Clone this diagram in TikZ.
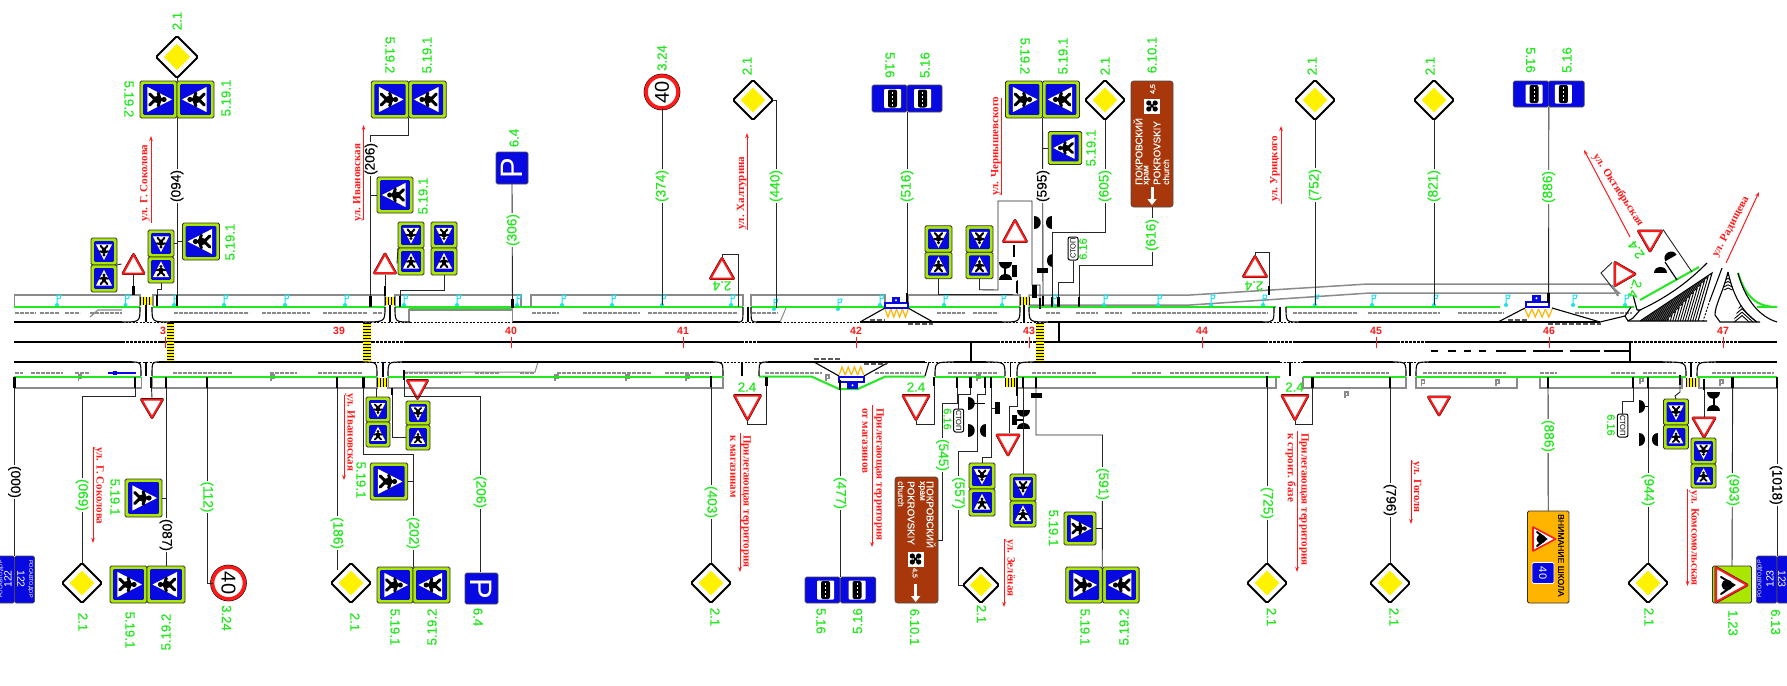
\documentclass[tikz,border=0pt]{standalone}
\usepackage{fontspec}
\setmainfont{Liberation Sans}
\newfontfamily\strfont{Liberation Serif}
\newfontfamily\lblfont[FakeBold=0.35]{Liberation Sans}
\usetikzlibrary{shapes.geometric,arrows.meta}
\definecolor{sgreen}{HTML}{22E81E}
\definecolor{sred}{HTML}{FF1A1A}
\definecolor{sblue}{HTML}{0808E0}
\definecolor{slime}{HTML}{ABE600}
\definecolor{sbrown}{HTML}{A8380C}
\definecolor{sorange}{HTML}{FFB400}
\definecolor{syel}{HTML}{FFF200}
\definecolor{scyan}{HTML}{19E3EE}
\definecolor{sgrey}{HTML}{8A8A8A}
\tikzset{
 conn/.style={draw=black!85,line width=0.9pt},
 stubl/.style={draw=black,line width=2.6pt},
 curb/.style={draw=black,line width=1.1pt},
 cdash/.style={draw=black,line width=0.9pt,dash pattern=on 2pt off 1.5pt},
 mid/.style={draw=black,line width=2pt},
 middash/.style={draw=black,line width=1.6pt,dash pattern=on 2.5pt off 1.5pt},
 grl/.style={draw=sgrey,line width=1.5pt},
 grd/.style={draw=sgrey,line width=1.2pt,dash pattern=on 4pt off 1pt},
 grn/.style={draw=sgreen,line width=2pt},
 glab/.style={font=\fontsize{13.2}{13.2}\selectfont\lblfont,text=sgreen,inner sep=0pt},
 glabs/.style={font=\fontsize{11}{11}\selectfont\lblfont,text=sgreen,inner sep=0pt},
 dlab/.style={font=\fontsize{13.7}{13.7}\selectfont\lblfont,text=sgreen,fill=white,inner sep=1pt},
 blab/.style={font=\fontsize{13.7}{13.7}\selectfont\lblfont,text=black,fill=white,inner sep=1pt},
 klab/.style={font=\fontsize{10.5}{10.5}\selectfont\bfseries,text=sred,inner sep=0pt},
 slab/.style={font=\fontsize{11}{11}\selectfont\strfont\bfseries,text=sred,inner sep=0pt},
 starrow/.style={draw=sred,line width=1pt,-{Stealth[length=5pt,width=3.5pt]}},
 stline/.style={draw=sred,line width=1pt},
 pedbox/.style={draw=black!80,line width=0.9pt,fill=slime,rounded corners=1.5pt,inner sep=0pt,outer sep=0pt},
 bluebox/.style={draw=black!70,line width=0.6pt,fill=sblue,rounded corners=1.5pt,inner sep=0pt,outer sep=0pt},
 brownbox/.style={draw=black!70,line width=0.6pt,fill=sbrown,rounded corners=2.5pt,inner sep=0pt,outer sep=0pt},
 wlab/.style={text=white,inner sep=0pt},
 ghost/.style={inner sep=0pt,outer sep=0pt}
}
\newcounter{tn}
\newcommand{\tx}[5][glab]{\stepcounter{tn}\node[#1,rotate=#4] (t\thetn) at (#2,#3) {#5};}
\newcommand{\ped}[6]{%
 \node[pedbox,minimum width=#4pt,minimum height=#5pt] (#1) at (#2,#3) {};
 \begin{scope}[shift={(#2,#3)}]
 \pgfmathsetmacro\hw{#4/2-3.2}\pgfmathsetmacro\hh{#5/2-3.2}\pgfmathsetmacro\uu{min(\hw,\hh)}
 \fill[sblue,rounded corners=1pt] (-\hw,-\hh) rectangle (\hw,\hh);
 \begin{scope}[rotate=#6]
 \fill[white] (0,-0.88*\uu) -- (0.82*\uu,0.72*\uu) -- (-0.82*\uu,0.72*\uu) -- cycle;
 \draw[black,line width=0.2*\uu pt,line cap=round,line join=round] (-0.42*\uu,0.02*\uu) -- (0,-0.1*\uu) -- (0.42*\uu,0.02*\uu) (-0.36*\uu,0.58*\uu) -- (0,0.2*\uu) -- (0.36*\uu,0.58*\uu);
 \fill[black] (0,0.06*\uu) ellipse[x radius=0.24*\uu,y radius=0.3*\uu] (0,-0.36*\uu) circle[radius=0.17*\uu];
 \end{scope}\end{scope}}
\newcommand{\dmd}[4]{%
 \node[diamond,aspect=1,draw=black,line width=1.8pt,fill=white,minimum size=#4pt,inner sep=0pt,outer sep=0pt,rounded corners=1.5pt] (#1) at (#2,#3) {};
 \pgfmathsetmacro\dd{#4*0.31}
 \fill[yellow] (#2,#3) ++(0,-\dd) -- ++(\dd,\dd) -- ++(-\dd,\dd) -- ++(-\dd,-\dd) -- cycle;}
\newcommand{\yld}[6]{%
 \node[ghost,minimum width=#4pt,minimum height=#5pt] (#1) at (#2,#3) {};
 \begin{scope}[shift={(#2,#3)},rotate=#6]
 \pgfmathsetmacro\ww{#4/2-1.5}\pgfmathsetmacro\vv{#5/2-1.5}
 \draw[black,line width=2.8pt,line join=round] (0,-\vv) -- (\ww,\vv) -- (-\ww,\vv) -- cycle;
 \draw[sred,line width=2pt,fill=white,line join=round] (0,-\vv) -- (\ww,\vv) -- (-\ww,\vv) -- cycle;
 \end{scope}}
\newcommand{\spd}[4]{%
 \fill[black] (#2,#3) circle[radius=18.3];
 \node[circle,draw=sred,line width=3.6pt,fill=white,minimum size=32pt,inner sep=0pt,outer sep=0pt,rotate=#4,font=\fontsize{20}{20}\selectfont] (#1) at (#2,#3) {40};}
\newcommand{\bus}[7][0]{%
 \node[bluebox,minimum width=#5pt,minimum height=#6pt] (#2) at (#3,#4) {};
 \begin{scope}[shift={(#3,#4)}]
 \fill[white,rounded corners=1pt] (#7-8.5,-9.5) rectangle (#7+8.5,9.5);
 \fill[black,rounded corners=2pt] (#7-4.5,-9) rectangle (#7+4.5,9);
 \draw[white,line width=1pt,dash pattern=on 2pt off 2pt] (#7,-7) -- (#7,7);
 \end{scope}}
\newcommand{\clov}[2]{\fill[white] (#1-8,#2-7.5) rectangle (#1+8,#2+7.5);
 \fill[black] (#1-3.2,#2-3) circle[radius=2.6] (#1+3.2,#2-3) circle[radius=2.6] (#1-3.2,#2+3) circle[radius=2.6] (#1+3.2,#2+3) circle[radius=2.6];
 \draw[black,line width=1.6pt] (#1-3,#2-3) -- (#1+3,#2+3) (#1-3,#2+3) -- (#1+3,#2-3);}
\newcommand{\dome}[3]{\begin{scope}[shift={(#1,#2)},rotate=#3]\fill[black] (-6.5,0) .. controls (-6.5,-8.5) and (6.5,-8.5) .. (6.5,0) -- cycle;\end{scope}}
\newcommand{\cyf}[2]{\fill[scyan] (#1,#2) circle[radius=2];\draw[scyan,line width=1pt] (#1,#2) -- (#1,#2-10) -- (#1+4,#2-10) -- (#1+3,#2-6.5) -- (#1,#2-6.5);}
\newcommand{\gmk}[2]{\draw[sgrey,line width=1.1pt] (#1,#2) -- (#1,#2-6) -- (#1+3,#2-6) -- (#1+3,#2-2.5) -- (#1,#2-2.5);}
\newcommand{\zebv}[4]{\fill[syel] (#1,#2) rectangle (#3,#4);\foreach \q in {0,2,...,10}{\pgfmathsetmacro\qq{#1+\q*1.5}\pgfmathparse{\qq<#3?1:0}\ifnum\pgfmathresult=1\fill[black] (\qq,#2) rectangle (\qq+1.3,#4);\fi}}
\newcommand{\zebh}[4]{\fill[syel] (#1,#2) rectangle (#3,#4);\foreach \q in {0,3,...,36}{\fill[black] (#1,#2+\q) rectangle (#3,#2+\q+1.3);}}
\newcommand{\cu}[4]{\draw[curb] (#1,#3) .. controls (#2,#3) .. (#2,#4);}
\newcommand{\stub}[3]{\draw[stubl] (#1,#2) -- (#1,#3);}
\begin{document}
\begin{tikzpicture}[x=1pt,y=-1pt]
\useasboundingbox (0,0) rectangle (1787,685);
\begin{scope}
\clip (0,0) rectangle (1787,685);
\fill[white] (0,0) rectangle (1787,685);
% ---------- sidewalks
\foreach \a/\b in {14.5/140,153/385,395/521,531/743,751/885,908/1020}{\draw[grl] (\a,306) -- (\a,295) -- (\b,295) -- (\b,306);}
\draw[grl] (1029,306) -- (1029,295) -- (1190,295) -- (1368,284) -- (1609,284) -- (1619,293) -- (1370,293) -- (1190,305) -- (1029,305);
\foreach \a/\b in {14.5/141.6,152/377,388/723,1017/1276,1303/1406,1416/1517,1540/1682,1699/1777}{\draw[grl] (\a,377) -- (\a,388) -- (\b,388) -- (\b,377);}
\draw[draw=sgrey,line width=1.2pt] (409,322) -- (409,310) -- (512,310);
\draw[sgrey,line width=1pt,dash pattern=on 3pt off 1.5pt] (404,362) -- (538,362);
\draw[sgrey,line width=1pt] (538,362) -- (535,372) -- (404,372);
\draw[sgrey,line width=1pt] (786,308) -- (780,322);
% grey dashes
\foreach \a/\b in {15/36,40/59,65/80,90/122,174/249,262/310,323/367,373/383,532/559,583/640,648/738,752/778,937/965,973/998,1046/1061,1076/1098,1105/1122,1132/1268,1293/1358,1368/1440,1458/1504,1575/1632}{\draw[grd] (\a,313) -- (\b,313);}
\foreach \a/\b in {15/23,31/63,75/90,173/232,270/297,318/362,404/461,475/500,520/534,557/652,665/711,765/822,875/921,948/998,1032/1096,1132/1161,1170/1200,1200/1270,1316/1389,1423/1506,1540/1557,1611/1636,1643/1676,1712/1774}{\draw[grd] (\a,373) -- (\b,373);}
\draw[sgrey,line width=1.2pt] (90,317) -- (98,310) -- (122,310);
\draw[sblue,line width=1.2pt] (108,373) -- (136,373);\fill[sblue] (113,371) rectangle (117,375);
% flags
\foreach \f in {57,125.5,224,285,345,457,517,562,612,662,731,880,944,1002,1053,1104,1158,1211,1263,1315,1372,1434,1506,1573,1625}{\cyf{\f}{305}}
\cyf{174}{305}\cyf{404}{305}\cyf{774}{309}\cyf{838}{309}
\foreach \a/\b in {78.5/381,271/381,555/381,626/381,686/381,826/381,977/381,1421.5/386,1496/386,1640/384,1720/386,1345/398}{\gmk{\a}{\b}}
% green
\foreach \a/\b in {14/140,153/385,395/743,751/885,908/1020,1029/1276,1286/1500,1578/1634,1757/1777}{\draw[grn] (\a,307) -- (\b,307);}
\draw[sgreen,line width=3pt] (409,307.5) -- (512,307.5);
\foreach \a/\b in {14/141,152/377,388/723,935/1005,1017/1280,1303/1406,1416/1686,1697/1777}{\draw[grn] (\a,376.7) -- (\b,376.7);}
\draw[grn] (759,376.7) -- (812,376.7) -- (839,389) -- (858,389) -- (885,376.7) -- (925,376.7);
\draw[grn] (1640,300) -- (1699,267);
\draw[grn] (1738,273) .. controls (1745,295) and (1755,307) .. (1777,307);
% ---------- road
\foreach \a/\b in {14/122,170/363,512/738,757/780,860/1002,1048/1263,1299/1600}{\draw[curb] (\a,322) -- (\b,322);}
\foreach \a/\b in {122/170,363/410,410/512,738/757,780/860,1002/1048,1263/1299}{\draw[cdash] (\a,322) -- (\b,322);}
\foreach \a/\b in {14/132,159/363,402/713,768/925,954/986,1034/1280,1303/1393,1429/1663,1716/1777}{\draw[curb] (\a,362) -- (\b,362);}
\foreach \a/\b in {132/159,363/402,713/768,925/954,986/1034,1280/1303,1393/1429,1663/1716}{\draw[cdash] (\a,362) -- (\b,362);}
\foreach \a/\b in {14/122,160/372,407/741,757/997,1035/1265,1295/1397,1425/1630,1741/1777}{\draw[mid] (\a,342) -- (\b,342);}
\foreach \a/\b in {122/160,372/407,741/757,997/1035,1265/1295,1397/1425,1630/1741}{\draw[middash] (\a,342) -- (\b,342);}
\draw[draw=black,line width=1.3pt] (1431,351) -- (1438,351) (1448,351) -- (1456,351) (1464,351) -- (1471,351) (1479,351) -- (1486,351) (1496,351) -- (1526,351) (1533,351) -- (1563,351) (1570,351) -- (1600,351) (1604,351) -- (1630,351);
\draw[mid] (1629.5,342) -- (1629.5,362);\draw[mid] (1059,322) -- (1059,342);\draw[mid] (971,342) -- (971,361);
% curbs
\cu{122}{140}{322}{307}\cu{170}{152}{322}{307}\cu{363}{385}{322}{307}\cu{410}{395}{322}{307}\cu{738}{743}{322}{307}\cu{757}{751}{322}{307}\cu{1002}{1020}{322}{307}\cu{1048}{1029}{322}{307}\cu{1263}{1274}{322}{307}\cu{1299}{1286}{322}{307}
\cu{132}{141}{362}{376}\cu{159}{152}{362}{376}\cu{363}{377}{362}{376}\cu{402}{388}{362}{376}\cu{713}{723}{362}{376}\cu{768}{759}{362}{376}\cu{954}{935}{362}{376}\cu{986}{1005}{362}{376}\cu{1034}{1017}{362}{376}\cu{1393}{1406}{362}{376}\cu{1429}{1416}{362}{376}\cu{1663}{1686}{362}{376}\cu{1716}{1697}{362}{376}
\draw[curb] (929,362) -- (925,376);
\foreach \x/\a/\b in {146/305/322,390/305/322,748/307/322,1024/305/322,1280/307/322}{\draw[curb] (\x,\a) -- (\x,\b);}
\foreach \x/\a/\b in {146/362/376,383/362/377,742/362/376,1010.5/362/377,1290/362/376,1410/362/376,1691/362/377}{\draw[curb] (\x,\a) -- (\x,\b);}
% bus bays
\draw[curb] (860,322) -- (885,308);\draw[curb] (908,308) -- (933,322);
\draw[curb] (1498,322) -- (1525,308);\draw[curb] (1552,308) -- (1600,322);
\draw[curb] (814,362) -- (839,376);\draw[curb] (864,376) -- (889,362);
\foreach \a/\b/\y in {870/885/320,908/933/324,1508/1527/320,1548/1601/324,814/841/359,864/887/364}{\draw[black!65,line width=1.2pt,dash pattern=on 5pt off 2pt] (\a,\y) -- (\b,\y);}
\foreach \x in {0,1,2,3}{
 \draw[sorange,line width=1.2pt] ({885+\x*5.8},309) -- ({888+\x*5.8},317) -- ({890.8+\x*5.8},309);
 \draw[sorange,line width=1.2pt] ({1525+\x*6.8},309) -- ({1528.4+\x*6.8},317) -- ({1531.8+\x*6.8},309);
 \draw[sorange,line width=1.2pt] ({839+\x*6.2},375) -- ({842+\x*6.2},367) -- ({845.2+\x*6.2},375);}
\foreach \a/\b/\y in {885/908/303,1526/1549/302,839/864/377}{\draw[sblue,line width=1.1pt,fill=white] (\a,\y) rectangle (\b,\y+5);}
\foreach \a/\b/\y in {892/900/297,1532/1541/295,847/858/382}{\fill[sblue] (\a,\y) rectangle (\b,\y+6.5);\fill[white] ({(\a+\b)/2},\y+3.2) circle[radius=1.1];}
% complex junction
\draw[curb] (1600,322) -- (1625,316) -- (1628,321) -- (1707,321);
\draw[curb] (1640,321) -- (1712,273) -- (1698,321);
\draw[curb] (1640,310) .. controls (1670,296) and (1690,280) .. (1707,263);
\draw[curb] (1625,316) -- (1631,307) (1637,310) -- (1640,310) -- (1633,318) -- (1628,321);
\draw[curb] (1722,268) -- (1710,300);\draw[cdash] (1710,300) -- (1703,321);
\draw[curb] (1728,272) .. controls (1722,295) and (1715,305) .. (1715,315) -- (1720,322) -- (1760,322);
\draw[curb] (1728,272) .. controls (1733,295) and (1742,312) .. (1757,322);
\draw[curb] (1738,273) .. controls (1745,300) and (1760,317) .. (1777,322);
\begin{scope}\clip (1640,321) -- (1712,273) -- (1698,321) -- cycle;
\foreach \i in {0,...,13}{\draw[black,line width=0.9pt] ({1708-\i*3.6},{277+\i*3.8}) ++(-72,48) -- ({1708-\i*3.6},{277+\i*3.8}) -- ++(-14,48);}
\end{scope}
\begin{scope}\clip (1728,272) -- (1723,290) -- (1733,290) -- cycle;
\foreach \i in {0,...,5}{\draw[black,line width=0.9pt] (1720,{276+\i*3.2}) -- (1728,{272+\i*3.2}) -- (1736,{276+\i*3.2});}
\end{scope}
\begin{scope}\clip (1740,305) -- (1733,322) -- (1757,322) -- cycle;
\foreach \i in {0,...,4}{\draw[black,line width=0.9pt] (1730,{312+\i*3.4}) -- (1742,{302+\i*3.4}) -- (1762,{320+\i*3.4});}
\end{scope}
% crossings
\zebh{167}{323}{174}{361}\zebh{363}{323}{371}{361}\zebh{1036}{323}{1044}{361}
\zebv{140}{297}{152}{305}\zebv{385}{297}{395}{305}\zebv{1020}{297}{1030}{305}
\zebv{377}{378}{388}{387}\zebv{1005}{378}{1017}{387}\zebv{1686}{378}{1697}{387}
% km labels
\foreach \x/\t in {163/3,339/39,511/40,683/41,856/42,1029/43,1202/44,1376/45,1549/46,1723/47}{\stepcounter{tn}\node[klab] (t\thetn) at (\x,331) {\t};}
\foreach \x in {165,511,683,856,1029,1202,1376,1549,1723}{\draw[sred,line width=1pt] (\x,337) -- (\x,348);}
\zebh{167}{323}{174}{361}
% ---------- TOP signs
\dmd{d1}{177}{57}{42}
\ped{p1a}{158.5}{99.5}{37}{37}{-90}\ped{p1b}{195.5}{99.5}{37}{37}{90}
\ped{p2}{201}{241.5}{37}{37}{90}
\ped{p3a}{161}{243.5}{26}{27}{180}\ped{p3b}{161}{270}{26}{26}{0}
\ped{p4a}{104}{251.5}{26}{27}{180}\ped{p4b}{104}{278.5}{26}{27}{0}
\yld{y1}{133.5}{264}{24}{22}{0}
\coordinate (e1) at (177,306);\coordinate (e2) at (157,305);\coordinate (e3) at (133.5,295);
\draw[conn] (d1.south) -- (p1a.north east);\draw[conn] (p1a.south east) -- (e1);
\draw[conn] (p2.west) -- (p2.west -| e1);\draw[conn] (p3a.east) -- (p3a.east -| e1);
\draw[conn] (p3b.south) -- ++(0,6) -- (157,289) -- (e2);
\draw[conn] (p4b.north east) -- (y1.west);
\draw[conn] (y1.south) -- (e3);
\stub{177}{295}{306}\stub{157}{295}{306}\stub{133.5}{286}{295}
\ped{p5a}{390}{99.5}{37.5}{37}{-90}\ped{p5b}{427.5}{99.5}{37.5}{37}{90}
\ped{p6}{395}{195}{36}{36}{90}
\ped{p7a}{411}{235}{26}{26}{180}\ped{p7b}{411}{261.5}{26}{27}{0}
\ped{p8a}{444}{235}{26}{26}{180}\ped{p8b}{444}{261.5}{26}{27}{0}
\yld{y2}{385}{263.5}{24}{22}{0}
\coordinate (e4) at (370.5,307);\coordinate (e5) at (400,307);\coordinate (e6) at (385,295);
\draw[conn] (p5a.south east) -- ++(0,17) -| (e4);
\draw[conn] (p6.west) -- (p6.west -| e4);
\draw[conn] (p8b.south) -- ++(0,15) -| (e5);
\draw[conn] (y2.east) -- (p7b.north west);
\draw[conn] (y2.south) -- (e6);
\stub{370.5}{296}{307}\stub{400}{296}{307}\stub{385}{286}{296}
\node[bluebox,minimum width=32pt,minimum height=32pt,text=white,font=\fontsize{31}{31}\selectfont,rotate=90] (ps1) at (512,168) {P};
\coordinate (e7) at (512.5,307);\draw[conn] (ps1.west) -- (e7);\draw[sgrey,line width=1pt] (512.5,307) -- (512.5,322);\stub{512.5}{299}{308}
\spd{s1}{662}{92}{90}\coordinate (e8) at (662,305);\draw[conn] (s1.west) -- (e8);
\dmd{d2}{753}{100}{40}\coordinate (e9) at (776,308);\draw[conn] (d2.east) -- (776,100) -- (e9);
\yld{y3}{722}{268.5}{26}{23}{0}\coordinate (e10) at (738,307);\draw[conn] (y3.north) -- (722,254) -- (738,254) -- (e10);
\bus{b1}{889.5}{98.5}{35}{27}{3}\bus{b2}{924.5}{98.5}{35}{27}{-2}
\coordinate (e11) at (907,303);\draw[conn] (b1.east) ++(0,13.5) -- (e11);\stub{907}{293}{303}
\ped{p9a}{938.5}{239}{27}{26.5}{180}\ped{p9b}{938.5}{265.5}{27}{26.5}{0}
\ped{p10a}{979.5}{239}{27}{26.5}{180}\ped{p10b}{979.5}{265.5}{27}{26.5}{0}
\yld{y4}{1015}{231}{26}{24}{0}
\coordinate (e12) at (1013,294);\coordinate (e13) at (1040,308);
\draw[conn] (p9b.south) |- (e12);
\draw[conn] (p10b.south) -- ++(0,11) -- (998,290) -- (998,201) -- (1032,201) -- (1032,285) -- (1040,285) -- (e13);
\draw[conn] (1017,280) -- (1017,294);
\stub{1014}{245}{257}\fill[black] (1012,265) rectangle (1017,277);\draw[draw=black,line width=2.4pt] (1017,281) -- (1017,293);
\dome{1005}{262}{180}\dome{1005}{280}{0}\draw[black,line width=2pt] (1005,262) -- (1005,280);
\ped{p11a}{1024}{99.5}{37}{37}{-90}\ped{p11b}{1061}{99.5}{37}{37}{90}
\ped{p12}{1065}{148}{33.5}{33}{90}
\coordinate (e14) at (1043,306);\draw[conn] (p11a.south east) -- (e14);\draw[conn] (p12.west) -- (p12.west -| e14);
\dome{1034}{222.5}{-90}\dome{1052}{222.5}{90}\dome{1053}{260}{90}\fill[black] (1037,268) rectangle (1048,273);\fill[black] (1032,285) rectangle (1037,298);
\stub{1043}{296}{306}\stub{1040}{298}{309}
\dmd{d3}{1105}{100}{40}\coordinate (e15) at (1052,307);\draw[conn] (d3.south) |- (1052,232) -- (e15);\stub{1052}{297}{307}
\node[draw=black,line width=1pt,fill=white,rounded corners=2pt,minimum width=10pt,minimum height=23pt,inner sep=0pt] (st1) at (1073,248.5) {};
\tx[font=\fontsize{7.5}{7.5}\selectfont,inner sep=0pt]{1073}{248.5}{90}{СТОП}
\coordinate (e16) at (1058.5,307);\draw[conn] (st1.south) -- (1073,282) -- (1058.5,282) -- (e16);\stub{1058.5}{297}{307}
\node[brownbox,minimum width=42pt,minimum height=126pt] (br1) at (1152,144) {};
\tx[wlab,anchor=west,font=\fontsize{9.7}{9.7}\selectfont\lblfont]{1138}{185}{90}{ПОКРОВСКИЙ}
\tx[wlab,anchor=west,font=\fontsize{8.5}{8.5}\selectfont\lblfont]{1147}{185}{90}{храм}
\tx[wlab,anchor=west,font=\fontsize{9.7}{9.7}\selectfont\lblfont]{1157}{185}{90}{POKROVSKIY}
\tx[wlab,anchor=west,font=\fontsize{8.5}{8.5}\selectfont\lblfont]{1166}{185}{90}{church}
\clov{1152}{106}
\tx[wlab,font=\fontsize{7}{7}\selectfont\lblfont]{1153}{89}{90}{4,5}
\draw[white,line width=3pt,-{Triangle[length=6pt,width=9pt]}] (1152,187) -- (1152,205);
\coordinate (e17) at (1079,307);\draw[conn] (br1.south) |- (1079,265) -- (e17);\stub{1079}{297}{307}
\dmd{d4}{1315}{100}{40}\coordinate (e18) at (1315,305);\draw[conn] (d4.south) -- (e18);
\dmd{d5}{1434}{100}{40}\coordinate (e19) at (1434,305);\draw[conn] (d5.south) -- (e19);
\yld{y5}{1255}{266.5}{26}{23}{0}\coordinate (e20) at (1269,295);\draw[conn] (y5.north) -- (1255,252) -- (1269,252) -- (e20);\stub{1269}{286}{295}
\bus{b3}{1531}{94}{35.6}{26}{3}\bus{b4}{1566.4}{94}{35.6}{26}{-3}
\coordinate (e21) at (1548.6,303);\draw[conn] (b3.east) ++(0,13) -- (e21);\stub{1548.6}{293}{303}
% rotated signs
\yld{y6}{1650}{241}{26}{23}{180}
\yld{y7}{1625}{274}{26}{23}{-90}
\coordinate (e22) at (1692,272);\coordinate (e23) at (1618,295);\coordinate (e24) at (1601,273);
\draw[conn] (y6.north east) -- (e22);
\draw[conn] (y7.north west) -- (e24) -- (e23);
\draw[sgrey,line width=2pt] (1612,285) -- (1618,296);
\dome{1660}{273}{0}\dome{1671}{258}{30}\draw[black,line width=1.2pt] (1665,262) -- (1677,280);
\draw[black,line width=1.2pt] (1633,295) -- (1637,310);
\tx{1636}{250}{125}{2.4}\tx{1635}{289}{-110}{2.4}
% ---------- BOTTOM signs
\node[bluebox,minimum width=21pt,minimum height=47pt] (r1) at (4,579.5) {};
\node[bluebox,minimum width=20pt,minimum height=47pt] (r2) at (24.5,579.5) {};
\tx[wlab,font=\fontsize{10.5}{10.5}\selectfont]{8}{579}{90}{122}
\tx[wlab,font=\fontsize{10.5}{10.5}\selectfont]{21}{579}{-90}{122}
\tx[wlab,font=\fontsize{5.5}{5.5}\selectfont]{30.6}{579}{-90}{РОСАВТОДОР}
\tx[wlab,font=\fontsize{5.5}{5.5}\selectfont]{1}{579}{90}{РОСАВТОДОР}
\coordinate (f1) at (14.5,377);\draw[conn] (f1) -- (r2.north west);\stub{14.5}{377}{388}
\dmd{d6}{82}{583}{40}\coordinate (f2) at (135,377);\draw[conn] (f2) |- (82,396) -- (d6.north);\stub{135}{377}{388}
\yld{y8}{152}{408.5}{24}{21}{180}\coordinate (f3) at (151,377);\draw[conn] (f3) -- (y8.north);\stub{151}{377}{388}
\ped{p13}{143.5}{498}{37}{38}{-90}\ped{p14a}{128.5}{584.5}{37}{37}{-90}\ped{p14b}{166}{584.5}{38}{37}{90}
\coordinate (f4) at (166,377);\draw[conn] (f4) -- (p14b.north);\draw[conn] (p13.east) -- (p13.east -| f4);\stub{166}{377}{388}
\spd{s2}{228.5}{583}{-90}\coordinate (f5) at (207,377);\draw[conn] (f5) |- (s2.south);\stub{207}{377}{388}
\dmd{d7}{351}{583}{40}\coordinate (f6) at (337,377);\draw[conn] (f6) -- (337,570);\stub{337}{377}{388}
\ped{p15}{389}{481.5}{37.5}{37}{-90}\ped{p16a}{395}{585}{36}{36}{-90}\ped{p16b}{431.5}{585}{37}{36}{90}
\coordinate (f7) at (363.6,377);\draw[conn] (f7) |- (413,454) -- (p16a.north east);\draw[conn] (p15.east) -- (p15.east -| 413,0);\stub{363.6}{377}{388}
\ped{p17a}{378}{409.5}{24}{25}{180}\ped{p17b}{378}{434.5}{24}{25}{0}
\coordinate (f8) at (376,388);\draw[conn] (f8) -- (p17a.north -| f8);
\yld{y9}{417.5}{389.5}{23}{21}{180}
\ped{p18a}{418}{413}{24}{24}{180}\ped{p18b}{418}{437.5}{24}{25}{0}
\coordinate (f9) at (392,388);\draw[conn] (f9) |- (p18b.west);\stub{392}{388}{395}
\coordinate (f10) at (404,370);\draw[conn] (f10) |- (480,396) -- (480,572);\stub{404}{370}{380}
\node[bluebox,minimum width=31pt,minimum height=33pt,text=white,font=\fontsize{31}{31}\selectfont,rotate=-90] (ps2) at (481.5,588.5) {P};
\dmd{d8}{711}{583}{40}\coordinate (f11) at (711,376);\draw[conn] (f11) -- (d8.north);\stub{711}{376}{387}
\yld{y10}{747.5}{407.5}{29}{27}{180}\coordinate (f12) at (766.5,377);\draw[conn] (f12) |- (747.5,424) -- (y10.south);\stub{766.5}{377}{386}
\bus{b5}{822.5}{590}{35}{26}{3}\bus{b6}{858}{590}{35.5}{26}{-1}
\coordinate (f13) at (840,380);\draw[conn] (f13) -- (b5.north east);\stub{840}{380}{390}
\yld{y11}{916}{407.5}{29}{27}{180}\coordinate (f14) at (934,377);\draw[conn] (f14) |- (916,424) -- (y11.south);\stub{934}{377}{386}
\node[brownbox,minimum width=43pt,minimum height=126pt] (br2) at (916.5,540) {};
\tx[wlab,anchor=west,font=\fontsize{9.7}{9.7}\selectfont\lblfont]{931}{481}{-90}{ПОКРОВСКИЙ}
\tx[wlab,anchor=west,font=\fontsize{8.5}{8.5}\selectfont\lblfont]{921.5}{481}{-90}{храм}
\tx[wlab,anchor=west,font=\fontsize{9.7}{9.7}\selectfont\lblfont]{911}{481}{-90}{POKROVSKIY}
\tx[wlab,anchor=west,font=\fontsize{8.5}{8.5}\selectfont\lblfont]{901}{481}{-90}{church}
\clov{915.5}{559}
\tx[wlab,font=\fontsize{7}{7}\selectfont\lblfont]{914.6}{573}{-90}{4,5}
\draw[white,line width=3pt,-{Triangle[length=6pt,width=9pt]}] (915.7,584) -- (915.7,602);
\coordinate (f15) at (957,377);\draw[conn] (f15) |- (942.5,403) |- (br2.east);\stub{957}{377}{388}
\node[draw=black,line width=1pt,fill=white,rounded corners=2pt,minimum width=10pt,minimum height=23pt,inner sep=0pt] (st2) at (958.7,420.5) {};
\tx[font=\fontsize{7.5}{7.5}\selectfont,inner sep=0pt]{958.7}{420.5}{-90}{СТОП}
\coordinate (f16) at (970.5,377);\draw[conn] (f16) |- (958.7,394) -- (st2.north);\stub{970.5}{377}{388}
\dome{968}{403.5}{-90}\dome{968}{430.5}{-90}\dome{986}{430.5}{90}\draw[black,line width=1pt] (972,403.5) -- (985,403.5);
\dmd{d9}{981}{585}{36}\coordinate (f17) at (985,377);\draw[conn] (f17) -- (985,394) -- (977,394) -- (977,451) -- (958.6,451) |- (d9.west);\stub{985}{377}{388}
\ped{p19a}{982}{476}{26}{26}{180}\ped{p19b}{982}{502.5}{26}{27}{0}
\coordinate (f18) at (991,377);\draw[conn] (f18) |- (982,457) -- (p19a.north);\stub{991}{377}{388}
\fill[black] (995,402) rectangle (1000,414);\draw[conn] (991,408) -- (995,408);
\yld{y12}{1008}{445}{25}{23}{180}
\coordinate (f19) at (1017,388);\draw[conn] (f19) |- (1009.5,406) -- (1009.5,433);
\stub{1017}{378}{396}
\dome{1023}{410}{180}\dome{1023}{429}{0}\fill[black] (1012,415) rectangle (1017,425);\draw[draw=black,line width=1.2pt] (1017,420) -- (1023,420);
\ped{p20a}{1023}{487.5}{26}{27}{180}\ped{p20b}{1023}{514}{26}{26}{0}
\coordinate (f20) at (1023,377);\draw[conn] (f20) -- (p20a.north);\stub{1023}{377}{388}
\ped{p21}{1080}{528.5}{32}{33}{-90}\ped{p22a}{1084}{585}{36.5}{36}{-90}\ped{p22b}{1120.8}{585}{36.5}{36}{90}
\coordinate (f21) at (1036,377);\draw[conn] (f21) |- (1102.5,435) -- (p22a.north east);\draw[conn] (p21.east) -- (p21.east -| 1102.5,0);\stub{1036}{377}{388}\fill[black] (1030.5,393) rectangle (1042,398);
\dmd{d10}{1267}{583}{40}\coordinate (f22) at (1267,376);\draw[conn] (f22) -- (d10.north);\stub{1267}{376}{387}
\yld{y13}{1295}{407.5}{29}{27}{180}\coordinate (f23) at (1312.5,377);\draw[conn] (f23) |- (1295,424) -- (y13.south);\stub{1312.5}{377}{388}
\dmd{d11}{1390}{583}{40}\coordinate (f24) at (1390,377);\draw[conn] (f24) -- (d11.north);\stub{1390}{377}{388}
\yld{y14}{1439}{406}{24}{21}{180}
\node[draw=black!80,line width=0.9pt,fill=sorange,rounded corners=1.5pt,minimum width=41.5pt,minimum height=92pt,inner sep=0pt,outer sep=0pt] (or1) at (1548.2,557) {};
\coordinate (f25) at (1548,377);\draw[conn] (f25) -- (or1.north);\stub{1548}{377}{388}
\tx[inner sep=0pt,anchor=west,font=\fontsize{8.6}{8.6}\selectfont\lblfont]{1561}{514}{-90}{ВНИМАНИЕ ШКОЛА}
\draw[sred,line width=1.6pt,fill=white,line join=round] (1555.5,539) -- (1533,527) -- (1533,551) -- cycle;
\fill[black] (1541,539) circle[radius=4.5];\draw[black,line width=2pt,line cap=round] (1537,532) -- (1546,539) -- (1537,546);
\node[draw=white,line width=0.7pt,fill=sblue,rounded corners=1.5pt,minimum width=21pt,minimum height=22pt,inner sep=0pt,text=white,rotate=-90,font=\fontsize{11}{11}\selectfont] (or2) at (1543,573) {40};
\coordinate (f26) at (1633,377);\node[draw=black,line width=1pt,fill=white,rounded corners=2pt,minimum width=10.5pt,minimum height=23pt,inner sep=0pt] (st3) at (1622.7,425.5) {};
\tx[font=\fontsize{7.5}{7.5}\selectfont,inner sep=0pt]{1622.7}{425.5}{-90}{СТОП}
\draw[conn] (f26) |- (1622.7,401) -- (st3.north);\stub{1633}{377}{388}
\dome{1638.5}{406}{-90}\draw[black,line width=1pt] (1642,406) -- (1649,406);\dome{1638.5}{439}{-90}\dome{1658}{439}{90}
\dmd{d12}{1648}{583}{40}\coordinate (f27) at (1648,377);\draw[conn] (f27) -- (d12.north);\stub{1648}{377}{388}
\ped{p23a}{1676}{412}{25}{26}{180}\ped{p23b}{1676}{437}{25}{24}{0}
\coordinate (f28) at (1680,385);\draw[conn] (f28) -- (1680,392) -- (1675,396) -- (p23a.north);\stub{1680}{375}{385}
\dome{1713.5}{392}{180}\dome{1713.5}{411}{0}\draw[black,line width=2pt] (1713.5,392) -- (1713.5,411);
\yld{y15}{1704}{427.5}{25}{22}{180}
\coordinate (f29) at (1704,390);\draw[conn] (f29) -- (y15.north);\stub{1704}{379}{390}
\ped{p24a}{1703.5}{451}{25}{26}{180}\ped{p24b}{1703.5}{476}{25}{24}{0}
\node[pedbox,minimum width=39pt,minimum height=37pt] (p25) at (1732,584.5) {};
\draw[black,line width=2.8pt,line join=round] (1747,585) -- (1716,567.5) -- (1716,602) -- cycle;
\draw[sred,line width=2pt,fill=white,line join=round] (1747,585) -- (1716,567.5) -- (1716,602) -- cycle;
\fill[black] (1727,585) circle[radius=5.5];\draw[black,line width=2pt,line cap=round] (1721,577) -- (1734,585) -- (1721,594);
\coordinate (f30) at (1732.7,377);\draw[conn] (f30) -- (p25.north);\stub{1732.7}{377}{388}
\node[bluebox,minimum width=20.6pt,minimum height=47pt] (r3) at (1766.7,579.5) {};
\node[bluebox,minimum width=20pt,minimum height=47pt] (r4) at (1787,579.5) {};
\tx[wlab,font=\fontsize{5.5}{5.5}\selectfont]{1760}{579}{90}{РОСАВТОДОР}
\tx[wlab,font=\fontsize{10.5}{10.5}\selectfont]{1770}{579}{90}{123}
\tx[wlab,font=\fontsize{10.5}{10.5}\selectfont]{1782}{579}{-90}{123}
\coordinate (f31) at (1777,377);\draw[conn] (f31) -- (r3.north east);\stub{1777}{377}{388}
% ---------- labels
\tx{177}{21}{90}{2.1}\tx{129}{99}{-90}{5.19.2}\tx{226}{98}{90}{5.19.1}\tx{230}{242}{90}{5.19.1}
\tx{390}{55}{-90}{5.19.2}\tx{427}{55}{90}{5.19.1}\tx{423}{196}{90}{5.19.1}\tx{514}{138}{90}{6.4}
\tx{662}{58}{90}{3.24}\tx{747}{66}{90}{2.1}\tx{722}{286}{180}{2.4}\tx{890}{65}{-90}{5.16}\tx{925}{65}{90}{5.16}
\tx{1025}{56}{-90}{5.19.2}\tx{1063}{56}{90}{5.19.1}\tx{1091}{148}{90}{5.19.1}\tx{1105}{66}{90}{2.1}\tx{1152}{55}{90}{6.10.1}
\tx[glabs]{1083}{249}{90}{6.16}
\tx{1312}{66}{90}{2.1}\tx{1430}{66}{90}{2.1}\tx{1530.6}{60}{-90}{5.16}\tx{1567}{60}{90}{5.16}\tx{1254}{286}{180}{2.4}
\tx{83}{622}{-90}{2.1}\tx{115}{497}{-90}{5.19.1}\tx{130}{630}{-90}{5.19.1}\tx{166}{632}{90}{5.19.2}\tx{226.5}{618}{-90}{3.24}
\tx{355}{622}{-90}{2.1}\tx{361}{480}{-90}{5.19.1}\tx{395}{627}{-90}{5.19.1}\tx{432}{627}{90}{5.19.2}\tx{478}{617}{-90}{6.4}
\tx{715}{617}{-90}{2.1}\tx{747}{387}{0}{2.4}\tx{821}{621}{-90}{5.16}\tx{857.5}{621}{90}{5.16}\tx{916}{387}{0}{2.4}\tx{914.6}{627}{-90}{6.10.1}
\tx[glabs]{947.5}{419}{-90}{6.16}
\tx{981.5}{614}{-90}{2.1}\tx{1053.5}{528}{-90}{5.19.1}\tx{1085}{627}{-90}{5.19.1}\tx{1124}{627}{90}{5.19.2}
\tx{1271.5}{617}{-90}{2.1}\tx{1294.5}{387}{0}{2.4}\tx{1394}{617}{-90}{2.1}
\tx[glabs]{1611}{425}{-90}{6.16}
\tx{1649}{617}{-90}{2.1}\tx{1733}{623}{-90}{1.23}\tx{1775.6}{622}{-90}{6.13}
% distance labels
\tx[blab]{177}{186}{90}{(094)}\tx[blab]{371}{159}{90}{(206)}\tx[dlab]{513}{230}{90}{(306)}\tx[dlab]{662}{186}{90}{(374)}\tx[dlab]{776}{186}{90}{(440)}\tx[dlab]{907}{186}{90}{(516)}\tx[blab]{1043}{186}{90}{(595)}\tx[dlab]{1105}{186}{90}{(605)}\tx[dlab]{1152}{235}{90}{(616)}\tx[dlab]{1315}{185}{90}{(752)}\tx[dlab]{1434}{186}{90}{(821)}\tx[dlab]{1548.6}{187}{90}{(886)}
\tx[blab]{14.5}{482}{-90}{(000)}\tx[dlab]{82}{495}{-90}{(069)}\tx[blab]{166}{535}{-90}{(087)}\tx[dlab]{207}{497}{-90}{(112)}\tx[dlab]{337}{533}{-90}{(186)}\tx[dlab]{413}{533}{-90}{(202)}\tx[dlab]{480}{492}{-90}{(206)}\tx[dlab]{711}{502}{-90}{(403)}\tx[dlab]{840}{493}{-90}{(477)}\tx[dlab]{942.5}{455}{-90}{(545)}\tx[dlab]{958.6}{493}{-90}{(557)}\tx[dlab]{1102.5}{484}{-90}{(591)}\tx[dlab]{1267}{503}{-90}{(725)}\tx[blab]{1390}{500}{-90}{(796)}\tx[dlab]{1548}{436}{-90}{(886)}\tx[dlab]{1648}{490}{-90}{(944)}\tx[dlab]{1733}{490}{-90}{(993)}\tx[blab]{1776}{485}{-90}{(1018)}
% streets
\tx[slab]{145}{183}{90}{ул. Г. Соколова}\draw[starrow] (151,223) -- (151,136);
\tx[slab]{358}{183}{90}{ул. Ивановская}\draw[starrow] (363.6,220) -- (363.6,125);
\tx[slab]{741.6}{193}{90}{ул. Халтурина}\draw[starrow] (747,230) -- (747,133);
\tx[slab]{996}{146}{90}{ул. Чернышевского}\draw[stline] (1001,195) -- (1001,98);
\tx[slab]{1275}{169}{90}{ул. Урицкого}\draw[starrow] (1281,204) -- (1281,126);
\tx[slab]{1618}{190}{-57}{ул. Октябрьская}\draw[starrow] (1630,237) -- (1584,150);
\tx[slab]{1731}{227}{62}{ул. Радищева}\draw[starrow] (1726,263) -- (1759,192);
\tx[slab]{99}{486}{-90}{ул. Г. Соколова}\draw[starrow] (93,447) -- (93,543);
\tx[slab]{350}{432}{-90}{ул. Ивановская}\draw[starrow] (344,395) -- (344,480);
\tx[slab,anchor=west]{746}{435}{-90}{Прилегающая территория}\tx[slab,anchor=west]{733}{435}{-90}{к магазинам}\draw[starrow] (740,433) -- (740,572);
\tx[slab,anchor=west]{879}{408}{-90}{Прилегающая территория}\tx[slab,anchor=west]{865}{408}{-90}{от магазинов}\draw[starrow] (872,405) -- (872,547);
\tx[slab,anchor=west]{1304}{433}{-90}{Прилегающая территория}\tx[slab,anchor=west]{1290.6}{433}{-90}{к строит. базе}\draw[starrow] (1297,431) -- (1297,572);
\tx[slab]{1010}{568}{-90}{ул. Зелёная}\draw[starrow] (1004,539) -- (1004,607);
\tx[slab]{1416.6}{487}{-90}{ул. Гоголя}\draw[starrow] (1411,460) -- (1411,524);
\tx[slab]{1694}{538}{-90}{ул. Комсомольская}\draw[starrow] (1687.5,489) -- (1687.5,586);
\end{scope}
\end{tikzpicture}
\end{document}
